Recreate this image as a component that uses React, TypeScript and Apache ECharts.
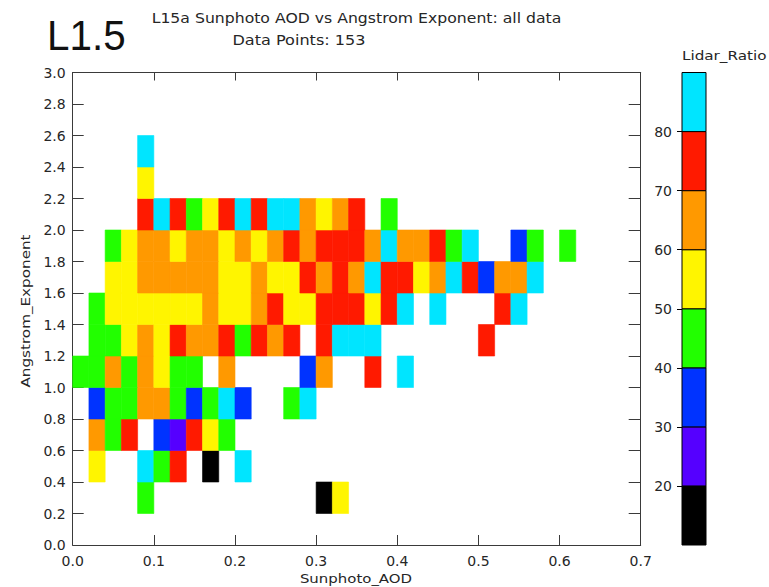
import { useEffect, useRef } from "react";
import * as echarts from "echarts";

// Bin edges (lower-left corners)
const aodBinStarts = [
  0.0, 0.02, 0.04, 0.06, 0.08, 0.1, 0.12, 0.14, 0.16, 0.18, 0.2, 0.22, 0.24, 0.26, 0.28, 0.3,
  0.32, 0.34, 0.36, 0.38, 0.4, 0.42, 0.44, 0.46, 0.48, 0.5, 0.52, 0.54, 0.56, 0.58, 0.6,
];
const aodBinWidth = 0.02;
const angstromBinHeight = 0.2;

// Lidar_Ratio per cell, one array per Angstrom bin (index = AOD bin), null = empty
const ae_0_2 = [null, null, null, null, 45, null, null, null, null, null, null, null, null, null, null, 15, 55];
const ae_0_4 = [null, 55, null, null, 85, 45, 75, null, 15, null, 85];
const ae_0_6 = [null, 65, 45, 75, null, 35, 25, 75, 55, 45];
const ae_0_8 = [null, 35, 45, 45, 65, 65, 45, 35, 45, 85, 35, null, null, 45, 85];
const ae_1_0 = [45, 45, 65, 45, 65, 55, 45, 45, null, 65, null, null, null, null, 35, 65, null, null, 75, null, 85];
const ae_1_2 = [null, 45, 45, 55, 65, 55, 75, 65, 65, 75, 45, 75, 65, 75, null, 75, 85, 85, 85, null, null, null, null, null, null, 75];
const ae_1_4 = [null, 45, 55, 55, 55, 55, 55, 55, 65, 55, 55, 65, 75, 55, 55, 75, 75, 75, 55, 75, 85, null, 85, null, null, null, 75, 85];
const ae_1_6 = [null, null, 55, 55, 65, 65, 65, 65, 65, 55, 55, 65, 55, 55, 75, 65, 75, 65, 85, 75, 75, 55, 65, 85, 75, 35, 65, 65, 85];
const ae_1_8 = [null, null, 45, 55, 65, 65, 55, 65, 65, 55, 65, 55, 65, 75, 65, 75, 75, 75, 65, 85, 65, 65, 75, 45, 85, null, null, 35, 45, null, 45];
const ae_2_0 = [null, null, null, null, 75, 85, 75, 45, 55, 75, 85, 75, 85, 85, 65, 55, 65, 75, null, 45];
const ae_2_2 = [null, null, null, null, 55];
const ae_2_4 = [null, null, null, null, 85];

const angstromBinStarts = [0.2, 0.4, 0.6, 0.8, 1.0, 1.2, 1.4, 1.6, 1.8, 2.0, 2.2, 2.4];
const lidarRows = [ae_0_2, ae_0_4, ae_0_6, ae_0_8, ae_1_0, ae_1_2, ae_1_4, ae_1_6, ae_1_8, ae_2_0, ae_2_2, ae_2_4];

// Colour scale of Lidar_Ratio
const ratioBreaks = [10, 20, 30, 40, 50, 60, 70, 80, 90];
const ratioColors = ["#000000", "#5500ff", "#0033ff", "#22ff00", "#fff500", "#ff9900", "#ff1a00", "#00e5ff"];

const titleLine1 = "L15a Sunphoto AOD vs Angstrom Exponent: all data";
const titleLine2 = "Data Points: 153";
const levelLabel = "L1.5";
const xTitle = "Sunphoto_AOD";
const yTitle = "Angstrom_Exponent";
const barTitle = "Lidar_Ratio";

function colorFor(v: number): string {
  for (let i = 0; i < ratioColors.length; i++) {
    if (v >= ratioBreaks[i] && v < ratioBreaks[i + 1]) return ratioColors[i];
  }
  return ratioColors[ratioColors.length - 1];
}

const FONT = "DejaVu Sans";
const TXT = "#262626";
const AX = "#3a3a3a";

export default function App() {
  const ref = useRef<HTMLDivElement>(null);
  useEffect(() => {
    if (!ref.current) return;
    const chart = echarts.init(ref.current, null, { renderer: "svg" });

    const cells: number[][] = [];
    lidarRows.forEach((row, j) => {
      row.forEach((v, k) => {
        if (v !== null && v !== undefined) cells.push([aodBinStarts[k], angstromBinStarts[j], v as number]);
      });
    });
    const barData = ratioColors.map((_, i) => [ratioBreaks[i], ratioBreaks[i + 1], (ratioBreaks[i] + ratioBreaks[i + 1]) / 2]);

    const gridL = 72.7, gridT = 72.5, gridW = 568, gridH = 472.5;

    chart.setOption({
      animation: false,
      backgroundColor: "#ffffff",
      textStyle: { fontFamily: FONT },
      grid: [
        { left: gridL, top: gridT, width: gridW, height: gridH },
        { left: 682, top: gridT, width: 24, height: gridH },
      ],
      xAxis: [
        {
          type: "value", gridIndex: 0, min: 0, max: 0.7, interval: 0.1, position: "bottom",
          axisLine: { show: true, onZero: false, lineStyle: { color: AX, width: 1 } },
          axisTick: { show: true, inside: true, length: 10, lineStyle: { color: AX } },
          axisLabel: { fontFamily: FONT, fontSize: 14, color: TXT, margin: 9, formatter: (v: number) => v.toFixed(1) },
          splitLine: { show: false },
        },
        {
          type: "value", gridIndex: 0, min: 0, max: 0.7, interval: 0.1, position: "top",
          axisLine: { show: true, onZero: false, lineStyle: { color: AX, width: 1 } },
          axisTick: { show: true, inside: true, length: 8, lineStyle: { color: AX } },
          axisLabel: { show: false },
          splitLine: { show: false },
        },
        { type: "value", gridIndex: 1, min: 0, max: 1, show: false },
      ],
      yAxis: [
        {
          type: "value", gridIndex: 0, min: 0, max: 3, interval: 0.2, position: "left",
          axisLine: { show: true, onZero: false, lineStyle: { color: AX, width: 1 } },
          axisTick: { show: true, inside: true, length: 11, lineStyle: { color: AX } },
          axisLabel: { fontFamily: FONT, fontSize: 14, color: TXT, margin: 7, formatter: (v: number) => v.toFixed(1) },
          splitLine: { show: false },
        },
        {
          type: "value", gridIndex: 0, min: 0, max: 3, interval: 0.2, position: "right",
          axisLine: { show: true, onZero: false, lineStyle: { color: AX, width: 1 } },
          axisTick: { show: true, inside: true, length: 12, lineStyle: { color: AX } },
          axisLabel: { show: false },
          splitLine: { show: false },
        },
        {
          type: "value", gridIndex: 1, min: 10, max: 90, interval: 10, position: "left",
          axisLine: { show: false },
          axisTick: { show: true, inside: false, length: 5, lineStyle: { color: "#000" } },
          axisLabel: {
            fontFamily: FONT, fontSize: 14, color: TXT, margin: 10,
            showMinLabel: false, showMaxLabel: false,
            formatter: (v: number) => (v <= 10 || v >= 90 ? "" : String(v)),
          },
          splitLine: { show: false },
        },
      ],
      series: [
        {
          type: "custom",
          xAxisIndex: 0,
          yAxisIndex: 0,
          encode: { x: 0, y: 1 },
          data: cells,
          renderItem: (_params: any, api: any) => {
            const x0 = api.value(0), y0 = api.value(1), v = api.value(2);
            const p0 = api.coord([x0, y0]);
            const p1 = api.coord([x0 + aodBinWidth, y0 + angstromBinHeight]);
            const c = colorFor(v);
            return {
              type: "rect",
              shape: { x: p0[0], y: p1[1], width: p1[0] - p0[0], height: p0[1] - p1[1] },
              style: { fill: c, stroke: c, lineWidth: 0.6 },
            };
          },
        },
        {
          type: "custom",
          xAxisIndex: 2,
          yAxisIndex: 2,
          encode: { y: [0, 1] },
          data: barData,
          renderItem: (_params: any, api: any) => {
            const lo = api.value(0), hi = api.value(1), mid = api.value(2);
            const p0 = api.coord([0, lo]);
            const p1 = api.coord([1, hi]);
            return {
              type: "rect",
              shape: { x: p0[0], y: p1[1], width: p1[0] - p0[0], height: p0[1] - p1[1] },
              style: { fill: colorFor(mid), stroke: "#000", lineWidth: 1 },
            };
          },
        },
      ],
      graphic: [
        {
          type: "text", x: 47, y: 35,
          style: { text: levelLabel, font: "43px 'Liberation Sans Narrow', 'Liberation Sans', sans-serif", fill: "#111", textVerticalAlign: "middle" },
          scaleX: 0.94,
        },
        {
          type: "text", x: 356.5, y: 18, scaleX: 1.12,
          style: { text: titleLine1, font: `14px '${FONT}'`, fill: TXT, textAlign: "center", textVerticalAlign: "middle" },
        },
        {
          type: "text", x: 299, y: 40, scaleX: 1.15,
          style: { text: titleLine2, font: `14px '${FONT}'`, fill: TXT, textAlign: "center", textVerticalAlign: "middle" },
        },
        {
          type: "text", x: 682, y: 55, scaleX: 1.17,
          style: { text: barTitle, font: `13px '${FONT}'`, fill: TXT, textAlign: "left", textVerticalAlign: "middle" },
        },
        {
          type: "text", x: 356, y: 578, scaleX: 1.15,
          style: { text: xTitle, font: `13px '${FONT}'`, fill: TXT, textAlign: "center", textVerticalAlign: "middle" },
        },
        {
          type: "text", x: 25, y: 311, rotation: Math.PI / 2, scaleX: 1.17,
          style: { text: yTitle, font: `13px '${FONT}'`, fill: TXT, textAlign: "center", textVerticalAlign: "middle" },
        },
      ],
    });
    return () => chart.dispose();
  }, []);
  return <div ref={ref} style={{ position: "absolute", left: 0, top: 0, width: 769, height: 587 }} />;
}
